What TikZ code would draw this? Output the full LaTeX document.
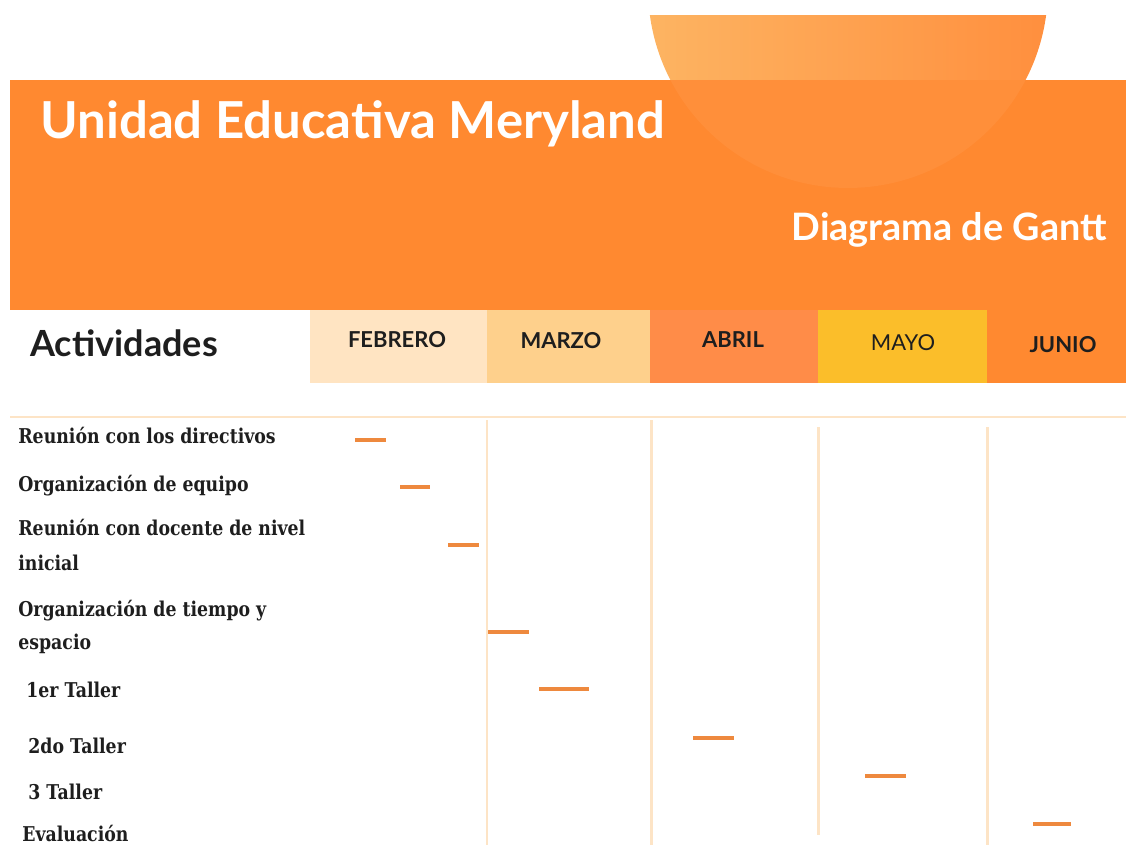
\documentclass[tikz,border=0pt]{standalone}
\usepackage{fontspec}
\usetikzlibrary{positioning}
\setmainfont{Lato}
\newfontfamily\taskfont{DejaVu Serif}[FakeStretch=0.85]
\definecolor{banner}{RGB}{255,137,48}
\definecolor{circA}{RGB}{253,180,98}
\definecolor{circB}{RGB}{255,143,62}
\definecolor{febcol}{RGB}{255,228,194}
\definecolor{marcol}{RGB}{254,208,140}
\definecolor{abrcol}{RGB}{255,140,72}
\definecolor{maycol}{RGB}{251,190,42}
\definecolor{gridline}{RGB}{253,228,198}
\definecolor{barcol}{RGB}{238,137,62}
\definecolor{ink}{RGB}{30,30,30}
\tikzset{
    month/.style={font=\bfseries\fontsize{12.5}{14}\selectfont, text=ink},
    task/.style={anchor=base west, inner sep=0pt, text=ink,
                 font=\taskfont\bfseries\fontsize{11.6}{13}\selectfont},
    gridrule/.style={draw=gridline, line width=1.7pt},
    bar/.style={draw=barcol, line width=1.8pt},
}
\begin{document}
\begin{tikzpicture}[x=0.02cm, y=-0.02cm]
    \useasboundingbox (0,0) rectangle (1126,845);

    % half circle behind the banner
    \begin{scope}
      \clip (0,15) rectangle (1126,80);
      \shade[left color=circA, right color=circB] (848,-12) circle (4cm);
    \end{scope}

    \fill[banner] (10,80) rectangle (1126,310);
    \begin{scope}
      \clip (10,80) rectangle (1126,310);
      \fill[white, opacity=0.05] (848,-12) circle (4cm);
    \end{scope}

    \node[anchor=base west, inner sep=0pt, text=white,
          font=\bfseries\fontsize{29}{34}\selectfont] (title) at (40,138) {Unidad Educativa Meryland};
    \node[anchor=base east, inner sep=0pt, text=white,
          font=\bfseries\fontsize{21.5}{26}\selectfont] (subtitle) at (1107,240) {Diagrama de Gantt};

    % header row
    \node[anchor=base west, inner sep=0pt, text=ink,
          font=\bfseries\fontsize{20.5}{24}\selectfont] (act) at (30,356) {Actividades};
    \fill[febcol] (310,310) rectangle (487,383);
    \fill[marcol] (487,310) rectangle (650,383);
    \fill[abrcol] (650,310) rectangle (818,383);
    \fill[maycol] (818,310) rectangle (987,383);
    \fill[banner] (987,310) rectangle (1126,383);
    \node[month] (feb) at (397,340) {FEBRERO};
    \node[month] (mar) at (561,341) {MARZO};
    \node[month] (abr) at (733,340) {ABRIL};
    \node[month, font=\fontsize{12.5}{14}\selectfont] (may) at (903,343) {MAYO};
    \node[month] (jun) at (1063,345) {JUNIO};

    % grid
    \draw[gridrule] (10,417) -- (1126,417);
    \draw[gridrule] (487,420) -- (487,845);
    \draw[gridrule] (651,420) -- (651,845);
    \draw[gridrule] (818,427) -- (818,835);
    \draw[gridrule] (987,427) -- (987,845);

    % activities
    \node[task] (t1) at (18,443) {Reunión con los directivos};
    \node[task] (t2) at (18,491) {Organización de equipo};
    \node[task] (t3) at (18,535) {Reunión con docente de nivel};
    \node[task] (t3b) at (18,570) {inicial};
    \node[task] (t4) at (18,616) {Organización de tiempo y};
    \node[task] (t4b) at (18,649) {espacio};
    \node[task] (t5) at (26,697) {1er Taller};
    \node[task] (t6) at (28,753) {2do Taller};
    \node[task] (t7) at (28,799) {3 Taller};
    \node[task] (t8) at (22,841) {Evaluación};

    % bars
    \foreach \xa/\xb/\yy in {355/386/440, 400/430/487, 448/479/545, 488/529/632,
                             693/734/738, 865/906/776, 1033/1071/824}
      \draw[bar] (\xa,\yy) -- (\xb,\yy);
    \draw[bar, line width=2.8pt] (539,689) -- (589,689);
\end{tikzpicture}
\end{document}
